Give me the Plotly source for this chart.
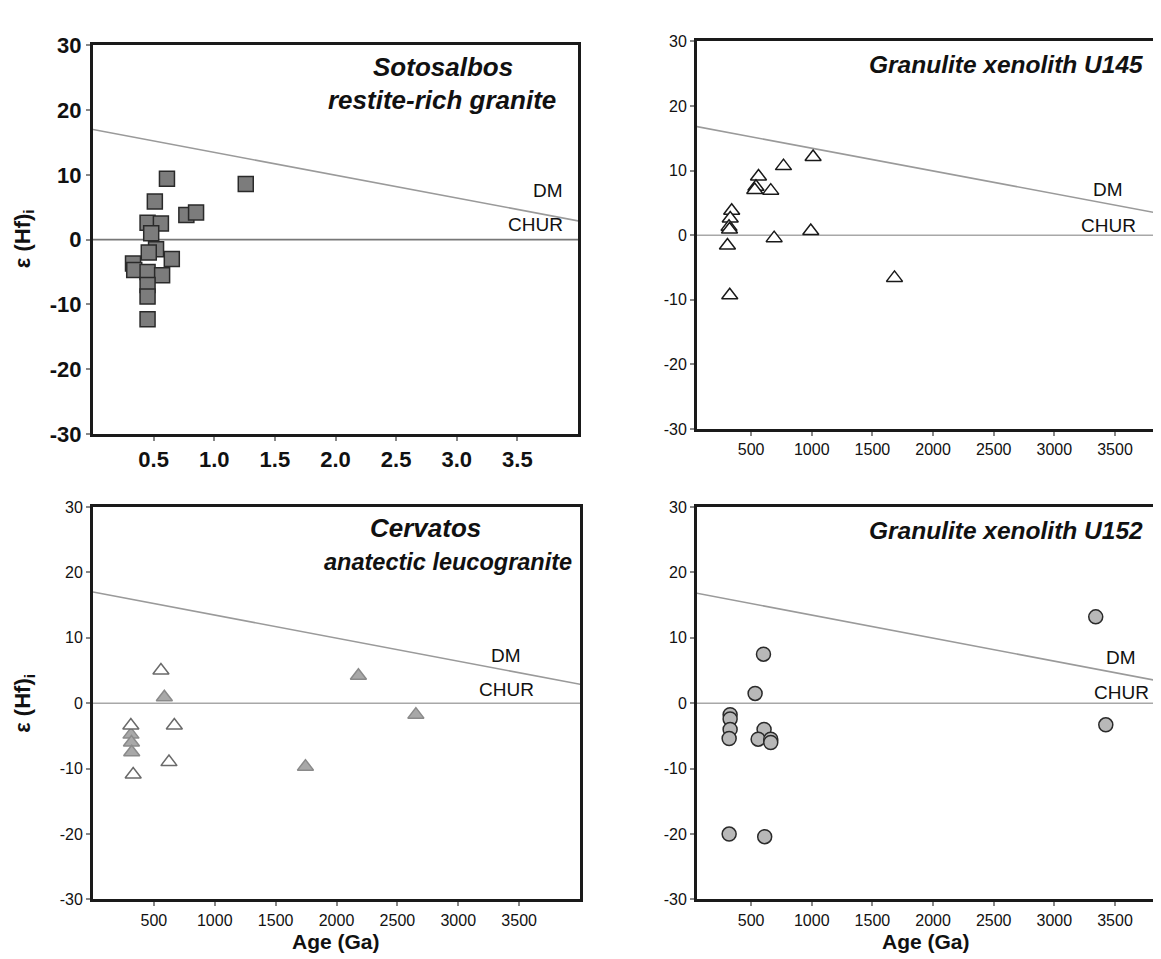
import plotly.graph_objects as go

W, H = 1161, 959

# ---------------- data ----------------
# Panel 1: Sotosalbos restite-rich granite (age in Ga)
soto_age = [0.61, 1.26, 0.51, 0.77, 0.85, 0.45, 0.56, 0.48, 0.52, 0.46, 0.65, 0.33, 0.34, 0.45, 0.57, 0.45, 0.45, 0.45]
soto_eps = [9.4, 8.6, 5.9, 3.8, 4.2, 2.6, 2.5, 1.0, -1.5, -2.0, -3.0, -3.7, -4.7, -5.0, -5.5, -7.0, -8.8, -12.3]

# Panel 2: Granulite xenolith U145 (age in Ma)
u145_age = [1011, 767, 561, 540, 530, 662, 340, 328, 318, 322, 305, 690, 992, 324, 1682]
u145_eps = [12.1, 10.7, 9.1, 7.5, 7.0, 6.9, 3.8, 2.6, 1.3, 0.9, -1.6, -0.45, 0.65, -9.3, -6.6]

# Panel 3: Cervatos anatectic leucogranite (age in Ma)
cerv_open_age = [558, 668, 311, 624, 330]
cerv_open_eps = [5.0, -3.4, -3.4, -9.0, -10.9]
cerv_fill_age = [586, 312, 316, 318, 1745, 2180, 2652]
cerv_fill_eps = [0.9, -4.8, -6.0, -7.5, -9.7, 4.2, -1.75]

# Panel 4: Granulite xenolith U152 (age in Ma)
u152_age = [602, 533, 327, 327, 327, 319, 607, 558, 662, 662, 319, 612, 3341, 3424]
u152_eps = [7.5, 1.5, -1.75, -2.4, -4.0, -5.4, -4.0, -5.5, -5.5, -6.0, -20.0, -20.4, 13.2, -3.3]

# Reference lines
dm_age_ga = [0.0, 4.1]
dm_eps = [17.0, 2.55]
chur_eps = [0.0, 0.0]

y_ticks = [-30, -20, -10, 0, 10, 20, 30]
y_labels = ["-30", "-20", "-10", "0", "10", "20", "30"]
x_ticks_ga = [0.5, 1.0, 1.5, 2.0, 2.5, 3.0, 3.5]
x_labels_ga = ["0.5", "1.0", "1.5", "2.0", "2.5", "3.0", "3.5"]
x_ticks_ma = [500, 1000, 1500, 2000, 2500, 3000, 3500]
x_labels_ma = ["500", "1000", "1500", "2000", "2500", "3000", "3500"]

FONT = "Arial, Liberation Sans, sans-serif"

# ---------------- layout helpers ----------------
def dom_x(a, b):
    return [a / W, b / W]

def dom_y(top, bottom):
    return [1 - bottom / H, 1 - top / H]

panels = {
    1: dict(x=(85, 570), y=(26, 425), xr=[0, 4.0]),
    2: dict(x=(689, 1161), y=(22, 420), xr=[54, 3945]),
    3: dict(x=(85, 572), y=(500, 903), xr=[0, 4000]),
    4: dict(x=(689, 1161), y=(500, 903), xr=[54, 3945]),
}

fig = go.Figure()

def ref_lines(n, scale):
    xa = "x" if n == 1 else f"x{n}"
    ya = "y" if n == 1 else f"y{n}"
    dm_x = [v * scale for v in dm_age_ga]
    fig.add_trace(go.Scatter(x=dm_x, y=dm_eps, mode="lines", xaxis=xa, yaxis=ya,
                             line=dict(color="#9a9a9a", width=1.6), hoverinfo="skip", showlegend=False))
    fig.add_trace(go.Scatter(x=dm_x, y=chur_eps, mode="lines", xaxis=xa, yaxis=ya,
                             line=dict(color="#777777" if n == 1 else "#a8a8a8", width=1.6),
                             hoverinfo="skip", showlegend=False))

ref_lines(1, 1.0)
ref_lines(2, 1000)
ref_lines(3, 1000)
ref_lines(4, 1000)

fig.add_trace(go.Scatter(x=soto_age, y=soto_eps, mode="markers", xaxis="x", yaxis="y",
                         marker=dict(symbol="square", size=15, color="#7c7c7c",
                                     line=dict(color="#2a2a2a", width=1.5)), showlegend=False))
fig.add_trace(go.Scatter(x=u145_age, y=u145_eps, mode="markers", xaxis="x2", yaxis="y2",
                         marker=dict(symbol="triangle-up", size=14, color="white",
                                     line=dict(color="#1a1a1a", width=1.5)), showlegend=False))
fig.add_trace(go.Scatter(x=cerv_fill_age, y=cerv_fill_eps, mode="markers", xaxis="x3", yaxis="y3",
                         marker=dict(symbol="triangle-up", size=14, color="#a8a8a8",
                                     line=dict(color="#8a8a8a", width=1.5)), showlegend=False))
fig.add_trace(go.Scatter(x=cerv_open_age, y=cerv_open_eps, mode="markers", xaxis="x3", yaxis="y3",
                         marker=dict(symbol="triangle-up", size=14, color="white",
                                     line=dict(color="#6a6a6a", width=1.5)), showlegend=False))
fig.add_trace(go.Scatter(x=u152_age, y=u152_eps, mode="markers", xaxis="x4", yaxis="y4",
                         marker=dict(symbol="circle", size=14, color="#b8b8b8",
                                     line=dict(color="#2a2a2a", width=1.5)), showlegend=False))

layout = dict(width=W, height=H, margin=dict(l=0, r=0, t=0, b=0),
              paper_bgcolor="white", plot_bgcolor="white", showlegend=False)

for n, p in panels.items():
    xk = "xaxis" if n == 1 else f"xaxis{n}"
    yk = "yaxis" if n == 1 else f"yaxis{n}"
    ya = "y" if n == 1 else f"y{n}"
    xa = "x" if n == 1 else f"x{n}"
    bold = (n == 1)
    tick_sz = 22 if n == 1 else 16
    tf = dict(family=FONT, size=tick_sz, color="#111111", weight="bold" if bold else "normal")
    full_box = n in (1, 3)
    layout[xk] = dict(domain=dom_x(*p["x"]), range=p["xr"], anchor=ya,
                      tickmode="array",
                      tickvals=x_ticks_ga if n == 1 else x_ticks_ma,
                      ticktext=x_labels_ga if n == 1 else x_labels_ma,
                      ticks="outside", ticklen=4, tickcolor="#888888", tickwidth=1.5,
                      showgrid=False, zeroline=False, showline=True, linecolor="#1a1a1a",
                      linewidth=3, mirror=True, tickfont=tf)
    layout[yk] = dict(domain=dom_y(*p["y"]), range=[-30, 30], anchor=xa,
                      tickmode="array", tickvals=y_ticks, ticktext=y_labels,
                      ticks="outside", ticklen=4, tickcolor="#888888",
                      tickwidth=1.5, showgrid=False, zeroline=False, showline=True,
                      linecolor="#1a1a1a", linewidth=3, mirror=full_box, tickfont=tf)

fig.update_layout(**layout)

ann = []
def text(x, y, s, size, bold=False, italic=False, angle=0, color="#111111", xanchor="center"):
    ann.append(dict(x=x / W, y=1 - y / H, xref="paper", yref="paper", text=s, showarrow=False,
                    xanchor=xanchor, yanchor="middle", textangle=angle,
                    font=dict(family=FONT, size=size, color=color,
                              weight="bold" if bold else "normal",
                              style="italic" if italic else "normal")))

# panel titles
text(435, 48, "Sotosalbos", 26, bold=True, italic=True)
text(434, 82, "restite-rich granite", 26, bold=True, italic=True)
text(998, 46, "Granulite xenolith U145", 24.5, bold=True, italic=True)
text(417, 522, "Cervatos", 26, bold=True, italic=True)
text(440, 556, "anatectic leucogranite", 23.5, bold=True, italic=True)
text(998, 524, "Granulite xenolith U152", 24.5, bold=True, italic=True)

# DM / CHUR labels
for (dx, dy, cx, cy) in [(540, 175, 527, 210), (1100, 174, 1100, 211),
                         (498, 652, 498, 687), (1113, 655, 1113, 690)]:
    text(dx, dy, "DM", 19)
    text(cx, cy, "CHUR", 19)

# axis titles
text(16, 225, "ε (Hf)<sub>i</sub>", 22, bold=True, angle=-90)
text(16, 702, "ε (Hf)<sub>i</sub>", 22, bold=True, angle=-90)
text(328, 946, "Age (Ga)", 21, bold=True)
text(918, 946, "Age (Ga)", 21, bold=True)

fig.update_layout(annotations=ann)
fig.write_html("out.html")
